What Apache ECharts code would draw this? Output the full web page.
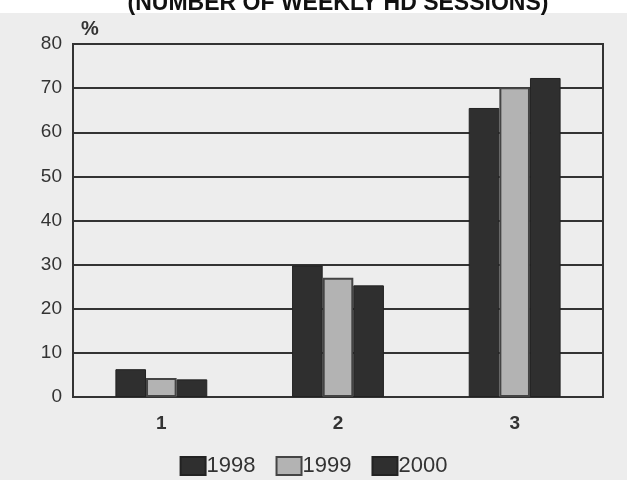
<!DOCTYPE html>
<html><head><meta charset="utf-8">
<script src="https://cdn.jsdelivr.net/npm/echarts@6/dist/echarts.min.js"></script>
<style>html,body{margin:0;padding:0;background:#ededed}#c{width:627px;height:480px}</style>
</head><body><div id="c"></div>
<script>
const categories = ['1', '2', '3'];
const seriesNames = ['1998', '1999', '2000'];
const values1998 = [6.3, 29.8, 65.5];
const values1999 = [4.3, 27.0, 70.2];
const values2000 = [4.0, 25.3, 72.3];
const yTicks = [0, 10, 20, 30, 40, 50, 60, 70, 80];
const titleText = '(NUMBER OF WEEKLY HD SESSIONS)';
const unitText = '%';

const chart = echarts.init(document.getElementById('c'));
const dark = '#2f2f2f';
chart.setOption({
  backgroundColor: '#ededed',
  animation: false,
  graphic: [
    {type:'rect', left:0, top:0, shape:{width:627, height:13}, style:{fill:'#ffffff'}, z:-1},
    {type:'text', x:338, y:15, style:{text:titleText, font:'bold 23px "Liberation Sans", Arial', fill:'#111', textAlign:'center', textVerticalAlign:'bottom'}},
    {type:'text', x:81, y:19, style:{text:unitText, font:'bold 20px "Liberation Sans", Arial', fill:'#333', textAlign:'left', textVerticalAlign:'top'}}
  ],
  grid: {left:73, right:24, top:44, bottom:83, show:true, borderColor:'#333', borderWidth:2, backgroundColor:'transparent'},
  legend: {
    bottom: -2, left: 'center', itemWidth: 25, itemHeight: 18, itemGap: 20,
    icon: 'rect',
    textStyle: {fontSize: 22, color: '#333', fontFamily: '"Liberation Sans", Arial', padding:[0,0,0,-4]},
    data: seriesNames
  },
  xAxis: {
    type: 'category', data: categories,
    axisLine: {lineStyle:{color:'#333', width:2}},
    axisTick: {show:false},
    axisLabel: {fontSize:19, fontWeight:'bold', color:'#333', margin:17, fontFamily:'"Liberation Sans", Arial'}
  },
  yAxis: {
    type: 'value', min: 0, max: 80, interval: 10,
    axisLine: {show:true, lineStyle:{color:'#333', width:2}},
    axisTick: {show:false},
    splitLine: {lineStyle:{color:'#333', width:2}},
    axisLabel: {fontSize:19, color:'#333', margin:11, fontFamily:'"Liberation Sans", Arial',
      formatter: v => yTicks.includes(v) ? String(v) : ''}
  },
  series: [
    {name: seriesNames[0], type:'bar', data: values1998, barGap:'0%', barCategoryGap:'48%',
     itemStyle:{color:dark, borderColor:'#222', borderWidth:1}},
    {name: seriesNames[1], type:'bar', data: values1999,
     itemStyle:{color:'#b3b3b3', borderColor:'#444', borderWidth:2}},
    {name: seriesNames[2], type:'bar', data: values2000,
     itemStyle:{color:dark, borderColor:'#222', borderWidth:1}}
  ]
});
</script></body></html>
